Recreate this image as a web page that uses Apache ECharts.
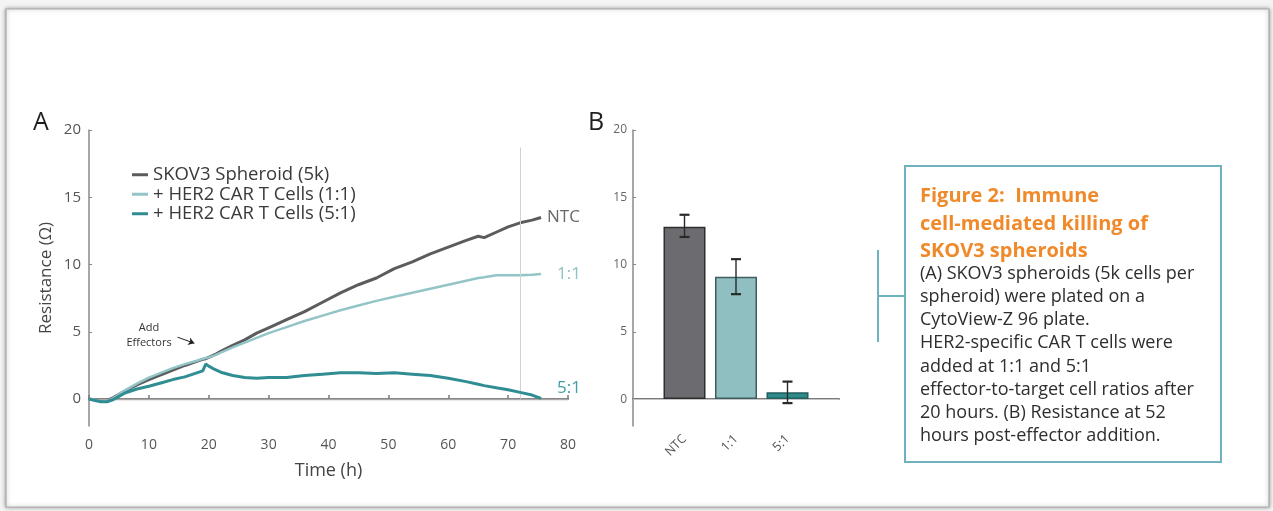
<!DOCTYPE html>
<html>
<head>
<meta charset="utf-8">
<script src="https://cdn.jsdelivr.net/npm/echarts@6.0.0/dist/echarts.min.js"></script>
<style>
  html, body { margin: 0; padding: 0; background: #f4f4f4; }
  #main { width: 1273px; height: 511px; }
</style>
</head>
<body>
<div id="main"></div>
<script>
// panel A : time course (h) and resistance (ohm)
var timeH = [0, 1, 2, 3, 4, 5, 6, 8, 10, 12, 14, 16, 18, 19, 19.5, 20, 21, 22, 24, 26, 28, 30, 33, 36, 39, 42, 45, 48, 51, 54, 57, 60, 63, 65, 66, 68, 70, 72, 74, 75.5];
var ntcVals = [0, -0.05, -0.15, -0.1, 0.1, 0.35, 0.6, 1.05, 1.45, 1.8, 2.15, 2.5, 2.8, 2.95, 3.0, 3.1, 3.3, 3.55, 4.0, 4.4, 4.9, 5.3, 5.9, 6.5, 7.2, 7.9, 8.5, 9.0, 9.7, 10.2, 10.8, 11.3, 11.8, 12.1, 12.0, 12.4, 12.8, 13.1, 13.3, 13.5];
var ratio11Vals = [0, -0.05, -0.15, -0.15, 0.05, 0.35, 0.65, 1.15, 1.6, 1.95, 2.3, 2.6, 2.85, 3.0, 3.05, 3.1, 3.25, 3.45, 3.85, 4.2, 4.55, 4.9, 5.35, 5.8, 6.2, 6.6, 6.95, 7.3, 7.6, 7.9, 8.2, 8.5, 8.8, 9.0, 9.05, 9.2, 9.2, 9.2, 9.25, 9.3];
var ratio51Vals = [0, -0.1, -0.2, -0.2, -0.05, 0.2, 0.45, 0.75, 0.95, 1.2, 1.45, 1.65, 1.95, 2.1, 2.6, 2.45, 2.2, 2.0, 1.75, 1.6, 1.55, 1.6, 1.6, 1.75, 1.85, 1.95, 1.95, 1.9, 1.95, 1.85, 1.75, 1.55, 1.3, 1.1, 1.0, 0.85, 0.7, 0.5, 0.3, 0.05];
var seriesNames = ["SKOV3 Spheroid (5k)", "+ HER2 CAR T Cells (1:1)", "+ HER2 CAR T Cells (5:1)"];

// panel B : resistance at 52 h post-effector
var barCategories = ["NTC", "1:1", "5:1"];
var barVals = [12.8, 9.1, 0.5];
var barErrLow = [12.05, 7.8, -0.3];
var barErrHigh = [13.7, 10.4, 1.3];

var C_NTC = "#5c5c5f";
var C_11 = "#93c5c7";
var C_51 = "#2f8d93";

function pairs(vals) {
  return timeH.map(function (t, i) { return [t, vals[i]]; });
}

// padded categories so the bars sit at 1/4, 2/4, 3/4 of the axis
var barAxisData = [""].concat(barCategories, [""]);
var barData = [null].concat(barVals, [null]);
var errData = barCategories.map(function (c, i) {
  return [i + 1, barErrLow[i], barErrHigh[i]];
});
function isReal(idx) { return idx >= 1 && idx <= barCategories.length; }

var fontA = "Open Sans";

var chart = echarts.init(document.getElementById("main"));
var option = {
  animation: false,
  backgroundColor: "#f4f4f4",
  textStyle: { fontFamily: fontA },
  legend: {
    data: seriesNames,
    orient: "vertical",
    left: 127,
    top: 160,
    itemGap: 0,
    itemWidth: 16,
    itemHeight: 3,
    icon: "rect",
    textStyle: { fontSize: 18.5, lineHeight: 19.5, color: "#3a3a3a", fontFamily: fontA }
  },
  grid: [
    { left: 89, right: 705, top: 130, bottom: 85 },
    { left: 633, right: 434, top: 130, bottom: 85 }
  ],
  xAxis: [
    {
      gridIndex: 0,
      type: "value",
      min: 0,
      max: 80,
      interval: 10,
      name: "Time (h)",
      nameLocation: "middle",
      nameGap: 36,
      nameTextStyle: { fontSize: 18, color: "#444" },
      axisLine: { lineStyle: { color: "#7a7a7a", width: 2 } },
      axisTick: { inside: true, length: 4, lineStyle: { color: "#7a7a7a", width: 1.5 } },
      axisLabel: { fontSize: 14, color: "#555", margin: 12 },
      splitLine: { show: false }
    },
    {
      gridIndex: 1,
      type: "category",
      data: barAxisData,
      boundaryGap: false,
      axisLine: { lineStyle: { color: "#7a7a7a", width: 2 } },
      axisTick: {
        inside: true, length: 4,
        interval: function (idx) { return isReal(idx); },
        lineStyle: { color: "#7a7a7a", width: 1.5 }
      },
      axisLabel: {
        rotate: 45, fontSize: 12.5, color: "#555", margin: 11,
        interval: function (idx) { return isReal(idx); }
      },
      splitLine: { show: false }
    }
  ],
  yAxis: [
    {
      gridIndex: 0,
      type: "value",
      min: -2,
      max: 20,
      splitNumber: 5,
      minInterval: 5,
      maxInterval: 5,
      name: "Resistance (\u03a9)",
      nameLocation: "middle",
      nameRotate: 90,
      nameGap: 34,
      nameTextStyle: { fontSize: 17, color: "#444" },
      axisLine: { show: true, lineStyle: { color: "#8a8a8a", width: 1.5 } },
      axisTick: { show: true, inside: true, length: 3, lineStyle: { color: "#8a8a8a" } },
      axisLabel: { fontSize: 15, color: "#555", margin: 8, showMinLabel: false },
      splitLine: { show: false }
    },
    {
      gridIndex: 1,
      type: "value",
      min: -2,
      max: 20,
      splitNumber: 5,
      minInterval: 5,
      maxInterval: 5,
      axisLine: { show: true, lineStyle: { color: "#8a8a8a", width: 1.5 } },
      axisTick: { show: true, inside: true, length: 3, lineStyle: { color: "#8a8a8a" } },
      axisLabel: { fontSize: 12, color: "#666", margin: 6, showMinLabel: false },
      splitLine: { show: false }
    }
  ],
  series: [
    {
      name: seriesNames[0],
      type: "line",
      xAxisIndex: 0,
      yAxisIndex: 0,
      data: pairs(ntcVals),
      showSymbol: false,
      color: C_NTC,
      lineStyle: { width: 3, color: C_NTC },
      z: 3,
      endLabel: { show: true, formatter: "NTC", color: "#6a6a6a", fontSize: 17, distance: 6 },
      markLine: {
        silent: true,
        symbol: ["none", "none"],
        label: { show: false },
        data: [
          [
            { coord: [72, 0], lineStyle: { color: "#d2d2d2", width: 1, type: "solid" } },
            { coord: [72, 18.7] }
          ],
          { yAxis: 0, lineStyle: { color: "#a8a8a8", width: 1.3, type: "solid" } },
          [
            { coord: [14.8, 4.6], lineStyle: { color: "#222", width: 1, type: "solid" } },
            { coord: [17.6, 4.15], symbol: "arrow", symbolSize: 6 }
          ]
        ]
      }
    },
    {
      name: seriesNames[1],
      type: "line",
      xAxisIndex: 0,
      yAxisIndex: 0,
      data: pairs(ratio11Vals),
      showSymbol: false,
      color: C_11,
      lineStyle: { width: 2.5, color: C_11 },
      z: 4,
      endLabel: { show: true, formatter: "1:1", color: "#8fc2c4", fontSize: 17, distance: 16 }
    },
    {
      name: seriesNames[2],
      type: "line",
      xAxisIndex: 0,
      yAxisIndex: 0,
      data: pairs(ratio51Vals),
      showSymbol: false,
      color: C_51,
      lineStyle: { width: 3, color: C_51 },
      z: 5,
      endLabel: { show: true, formatter: "5:1", color: "#3f9fa4", fontSize: 17, distance: 16, offset: [0, -10] }
    },
    {
      name: "bars",
      type: "bar",
      xAxisIndex: 1,
      yAxisIndex: 1,
      barWidth: 42,
      data: barData.map(function (v, i) {
        var fills = [null, "#6c6c70", "#8fbfc1", "#2f8b8a"];
        var borders = [null, "#2e2e30", "#3d5f61", "#245f60"];
        return {
          value: v,
          itemStyle: { color: fills[i], borderColor: borders[i], borderWidth: 1.5 }
        };
      }),
      markLine: {
        silent: true,
        symbol: ["none", "none"],
        label: { show: false },
        data: [{ yAxis: 0, lineStyle: { color: "#c4c4c4", width: 1.2, type: "solid" } }]
      },
      z: 2
    },
    {
      name: "err",
      type: "custom",
      xAxisIndex: 1,
      yAxisIndex: 1,
      data: errData,
      z: 6,
      renderItem: function (params, api) {
        var lo = api.coord([api.value(0), api.value(1)]);
        var hi = api.coord([api.value(0), api.value(2)]);
        var w = 5;
        var st = { stroke: "#2a2a2a", lineWidth: 1.4 };
        return {
          type: "group",
          children: [
            { type: "line", shape: { x1: hi[0], y1: hi[1], x2: lo[0], y2: lo[1] }, style: st },
            { type: "line", shape: { x1: hi[0] - w, y1: hi[1], x2: hi[0] + w, y2: hi[1] }, style: { stroke: "#2a2a2a", lineWidth: 2.2 } },
            { type: "line", shape: { x1: lo[0] - w, y1: lo[1], x2: lo[0] + w, y2: lo[1] }, style: { stroke: "#2a2a2a", lineWidth: 2.2 } }
          ]
        };
      }
    }
  ],
  graphic: [
    {
      type: "rect",
      z: -10,
      shape: { x: 6, y: 9, width: 1263, height: 498 },
      style: { fill: "#ffffff", stroke: "#a9a9a9", lineWidth: 1.2, shadowBlur: 4, shadowColor: "rgba(0,0,0,0.35)" }
    },
    { type: "text", left: 33, top: 110, style: { text: "A", fontSize: 25, fill: "#1e1e1e", fontFamily: fontA } },
    { type: "text", left: 588, top: 110, style: { text: "B", fontSize: 25, fill: "#1e1e1e", fontFamily: fontA } },
    {
      type: "text", x: 149, y: 320,
      style: { text: "Add\nEffectors", fontSize: 11, lineHeight: 15, fill: "#333", align: "center", fontFamily: fontA }
    },
    // caption box
    {
      type: "rect",
      shape: { x: 905, y: 166, width: 316, height: 296 },
      style: { fill: "#ffffff", stroke: "#6fb1bf", lineWidth: 2 }
    },
    { type: "line", shape: { x1: 878, y1: 250, x2: 878, y2: 342 }, style: { stroke: "#6fb1bf", lineWidth: 2 } },
    { type: "line", shape: { x1: 878, y1: 296, x2: 905, y2: 296 }, style: { stroke: "#6fb1bf", lineWidth: 2 } },
    {
      type: "text", left: 920, top: 183,
      style: {
        text: "Figure 2:  Immune\ncell-mediated killing of\nSKOV3 spheroids",
        fontSize: 20, fontWeight: "bold", lineHeight: 27.5, fill: "#f0892a", fontFamily: fontA
      }
    },
    {
      type: "text", left: 920, top: 262,
      style: {
        text: "(A) SKOV3 spheroids (5k cells per\nspheroid) were plated on a\nCytoView-Z 96 plate.\nHER2-specific CAR T cells were\nadded at 1:1 and 5:1\neffector-to-target cell ratios after\n20 hours. (B) Resistance at 52\nhours post-effector addition.",
        fontSize: 18, lineHeight: 23.2, fill: "#2e2e2e", fontFamily: fontA
      }
    }
  ]
};
chart.setOption(option);
</script>
</body>
</html>
